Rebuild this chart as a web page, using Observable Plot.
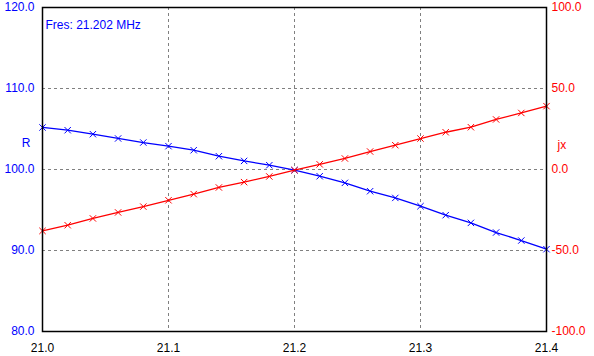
<!DOCTYPE html>
<html>
<head>
<meta charset="utf-8">
<script src="https://cdn.jsdelivr.net/npm/d3@7"></script>
<script src="https://cdn.jsdelivr.net/npm/@observablehq/plot@0.6"></script>
<style>
  html, body { margin: 0; padding: 0; background: #fff; }
  #chart { width: 594px; height: 356px; }
</style>
</head>
<body>
<div id="chart"></div>
<script>
// Frequency (MHz)
const freq = [21.00, 21.02, 21.04, 21.06, 21.08, 21.10, 21.12, 21.14, 21.16, 21.18, 21.20,
              21.22, 21.24, 21.26, 21.28, 21.30, 21.32, 21.34, 21.36, 21.38, 21.40];
// Resistance R (ohm), left axis
const rValues = [105.19, 104.85, 104.36, 103.83, 103.33, 102.88, 102.38, 101.64, 101.06, 100.53, 99.91,
                 99.17, 98.35, 97.32, 96.49, 95.47, 94.36, 93.41, 92.22, 91.23, 90.16];
// Reactance jx (ohm), right axis
const jxValues = [-37.9, -34.4, -30.2, -26.5, -22.9, -19.0, -15.2, -11.1, -7.8, -4.3, -0.4,
                  3.2, 6.8, 11.1, 15.0, 19.1, 23.0, 26.1, 30.9, 34.9, 39.1];

const xTicks = [21.0, 21.1, 21.2, 21.3, 21.4];
const rTicks = [80, 90, 100, 110, 120];
const jxTicks = [-100, -50, 0, 50, 100];
const titleText = "Fres: 21.202 MHz";

// map jx domain [-100,100] onto R domain [80,120]
const jxToR = v => 100 + v / 5;
const rToJx = v => (v - 100) * 5;

const rows = freq.map((f, i) => ({f, r: rValues[i], jx: jxValues[i]}));

const BLUE = "#0000ff", RED = "#ff0000", GRID = "#808080";

const chart = Plot.plot({
  width: 594,
  height: 356,
  marginLeft: 42,
  marginRight: 48,
  marginTop: 7,
  marginBottom: 25,
  style: {fontFamily: "'Liberation Sans', Arial, sans-serif", fontSize: "12px", background: "#fff"},
  x: {domain: [21.0, 21.4]},
  y: {domain: [80, 120]},
  marks: [
    Plot.gridX([21.1, 21.2, 21.3], {stroke: GRID, strokeOpacity: 1, strokeDasharray: "3,3"}),
    Plot.gridY([90, 100, 110], {stroke: GRID, strokeOpacity: 1, strokeDasharray: "3,3"}),
    Plot.line(rows, {x: "f", y: "r", stroke: BLUE, strokeWidth: 1.3}),
    Plot.dot(rows, {x: "f", y: "r", stroke: BLUE, symbol: "times", r: 3, strokeWidth: 1}),
    Plot.line(rows, {x: "f", y: d => jxToR(d.jx), stroke: RED, strokeWidth: 1.3}),
    Plot.dot(rows, {x: "f", y: d => jxToR(d.jx), stroke: RED, symbol: "times", r: 3, strokeWidth: 1}),
    Plot.frame({stroke: "#000", strokeWidth: 1.5}),
    Plot.axisX({ticks: xTicks, tickFormat: d => d.toFixed(1), tickSize: 0, tickPadding: 12, fill: "#000", label: null}),
    Plot.axisY({ticks: rTicks, tickFormat: d => d.toFixed(1), tickSize: 0, tickPadding: 8, fill: BLUE, label: null}),
    Plot.axisY({anchor: "right", ticks: jxTicks.map(jxToR), tickFormat: d => rToJx(d).toFixed(1), tickSize: 0, tickPadding: 5, fill: RED, label: null}),
    Plot.text([titleText], {frameAnchor: "top-left", dx: 3, dy: 13, fill: BLUE, text: d => d}),
    Plot.text(["R"], {frameAnchor: "left", dx: -12, dy: -26, textAnchor: "end", fill: BLUE, text: d => d}),
    Plot.text(["jx"], {frameAnchor: "right", dx: 11, dy: -24, textAnchor: "start", fill: RED, text: d => d})
  ]
});
document.getElementById("chart").appendChild(chart);
</script>
</body>
</html>
